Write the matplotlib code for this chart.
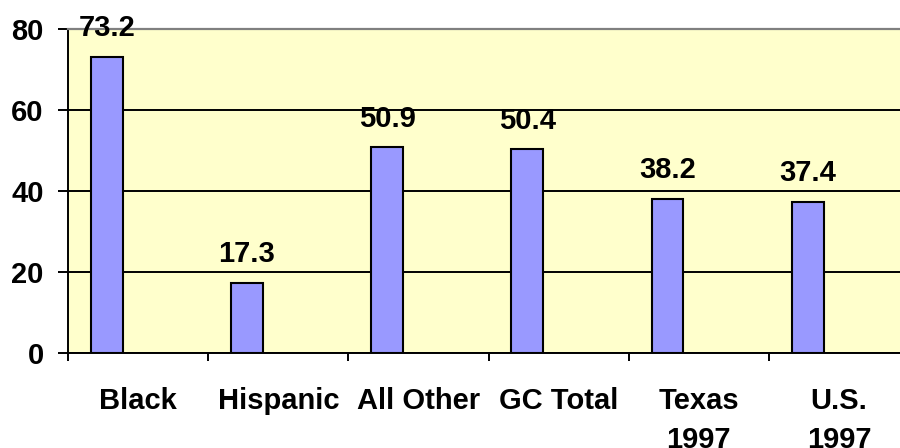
import numpy as np
import matplotlib
matplotlib.use("Agg")
import matplotlib.pyplot as plt

categories = ["Black", "Hispanic", "All Other", "GC Total", "Texas\n1997", "U.S.\n1997"]
values = [73.2, 17.3, 50.9, 50.4, 38.2, 37.4]
yticks = [0, 20, 40, 60, 80]

plt.rcParams['font.family'] = ['Liberation Sans', 'DejaVu Sans']
plt.rcParams['font.weight'] = 'bold'

fig = plt.figure(figsize=(9, 4.48), dpi=100)
ax = fig.add_axes([68 / 900, 95 / 448, 841 / 900, 323.5 / 448])
ax.set_facecolor('#FFFFCC')

x = np.arange(len(categories))
bars = ax.bar(x + 0.277, values, width=0.228, color='#9999FF',
              edgecolor='black', linewidth=1.5, zorder=3)

for rect, v in zip(bars, values):
    ax.annotate(f"{v:.1f}", (rect.get_x() + rect.get_width() / 2, v),
                xytext=(0, 10.5), textcoords='offset points',
                ha='center', va='bottom', fontsize=21, fontweight='bold',
                zorder=5, annotation_clip=False)

ax.set_xlim(0, len(categories))
ax.set_ylim(0, 80)
ax.set_yticks(yticks)
ax.yaxis.grid(True, color='black', linewidth=1.4, zorder=1)
ax.set_axisbelow(True)

ax.set_xticks(np.arange(len(categories) + 1))
ax.set_xticklabels([])
ax.set_xticks(x + 0.5, minor=True)
ax.set_xticklabels(categories, minor=True, fontsize=21, fontweight='bold',
                   linespacing=1.5, va='top')
ax.tick_params(axis='x', which='major', direction='out', length=6, width=1.4, color='black')
ax.tick_params(axis='x', which='minor', length=0, pad=24.5)
ax.tick_params(axis='y', direction='out', length=7.5, width=1.4, pad=10, labelsize=21)
for lab in ax.get_yticklabels():
    lab.set_fontweight('bold')

ax.spines['left'].set_linewidth(1.4)
ax.spines['bottom'].set_linewidth(1.4)
ax.spines['top'].set_color('#808080')
ax.spines['top'].set_linewidth(1.6)
ax.spines['right'].set_visible(False)

fig.savefig("out.png", dpi=100)
